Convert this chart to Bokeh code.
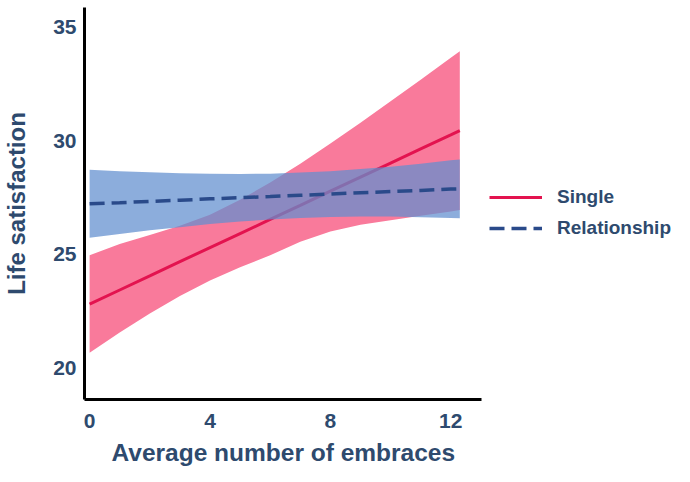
from bokeh.plotting import figure
from bokeh.models import Legend, LegendItem, Range1d, FixedTicker, Title
from bokeh.embed import file_html
from bokeh.resources import INLINE

# ---- data ----
x_vals = [0, 1, 2, 3, 4, 5, 6, 7, 8, 9, 10, 11, 12, 12.3]

single_fit = [22.80, 23.42, 24.04, 24.67, 25.29, 25.91, 26.53, 27.15, 27.78, 28.40, 29.02, 29.64, 30.26, 30.45]
single_upper = [24.95, 25.45, 25.85, 26.25, 26.74, 27.40, 28.16, 28.99, 29.88, 30.80, 31.74, 32.69, 33.66, 33.95]
single_lower = [20.65, 21.54, 22.38, 23.16, 23.84, 24.42, 24.95, 25.55, 26.00, 26.30, 26.50, 26.70, 26.88, 26.95]

rel_fit = [27.22, 27.27, 27.33, 27.38, 27.44, 27.49, 27.54, 27.60, 27.65, 27.71, 27.76, 27.81, 27.87, 27.88]
rel_upper = [28.72, 28.66, 28.61, 28.57, 28.55, 28.54, 28.55, 28.60, 28.66, 28.76, 28.86, 28.99, 29.14, 29.18]
rel_lower = [25.72, 25.89, 26.05, 26.19, 26.33, 26.44, 26.53, 26.60, 26.64, 26.66, 26.66, 26.63, 26.60, 26.58]

x_ticks = [0, 4, 8, 12]
y_ticks = [20, 25, 30, 35]
series_labels = ["Single", "Relationship"]
x_title = "Average number of embraces"
y_title = "Life satisfaction"

NAVY_TEXT = "#2E4A6E"
FONT = "Liberation Sans"

# x axis spans -0.17..13.02 at ~30.1 px per unit; the frame extends further right
# to hold the legend, with the axis line bounded to the data span.
X_AXIS_SPAN = (-0.17, 13.02)

p = figure(frame_width=592, frame_height=392, output_backend="svg",
           toolbar_location=None, min_border_left=82, min_border_right=0,
           min_border_top=7, min_border_bottom=0,
           x_range=Range1d(-0.17, 19.50), y_range=Range1d(18.59, 35.88))

p.varea(x=x_vals, y1=single_lower, y2=single_upper, fill_color="#F97A9B", fill_alpha=1.0)
r_single = p.line(x_vals, single_fit, line_color="#E3134F", line_width=3)
p.varea(x=x_vals, y1=rel_lower, y2=rel_upper, fill_color="#628FCF", fill_alpha=0.73)
r_rel = p.line(x_vals, rel_fit, line_color="#2A4A8A", line_width=3.5, line_dash="15 7")

p.grid.visible = False
p.outline_line_color = None

for ax in (p.xaxis[0], p.yaxis[0]):
    ax.axis_line_color = "black"
    ax.axis_line_width = 3
    ax.major_tick_line_color = None
    ax.minor_tick_line_color = None
    ax.major_label_text_font = FONT
    ax.major_label_text_font_style = "bold"
    ax.major_label_text_font_size = "21px"
    ax.major_label_text_color = NAVY_TEXT
    ax.axis_label_text_font = FONT
    ax.axis_label_text_font_style = "bold"
    ax.axis_label_text_font_size = "24px"
    ax.axis_label_text_color = NAVY_TEXT

p.xaxis.bounds = X_AXIS_SPAN
p.xaxis.ticker = FixedTicker(ticks=x_ticks)
p.yaxis.ticker = FixedTicker(ticks=y_ticks)
p.yaxis.axis_label = y_title
p.xaxis.major_label_standoff = 8
p.yaxis.major_label_standoff = 2
p.yaxis.axis_label_standoff = 20

p.add_layout(Title(text=x_title, align="left", offset=27, standoff=12,
                   text_font=FONT, text_font_style="bold", text_font_size="24.5px",
                   text_color=NAVY_TEXT), "below")

legend = Legend(items=[LegendItem(label=series_labels[0], renderers=[r_single]),
                       LegendItem(label=series_labels[1], renderers=[r_rel])],
                location=(405, 159), margin=0, padding=0,
                glyph_width=53, glyph_height=24, spacing=7, label_standoff=15,
                label_text_font=FONT, label_text_font_style="bold",
                label_text_font_size="19px", label_text_color=NAVY_TEXT,
                border_line_color=None, background_fill_alpha=0)
p.add_layout(legend)

open("out.html", "w").write(file_html(p, INLINE))
